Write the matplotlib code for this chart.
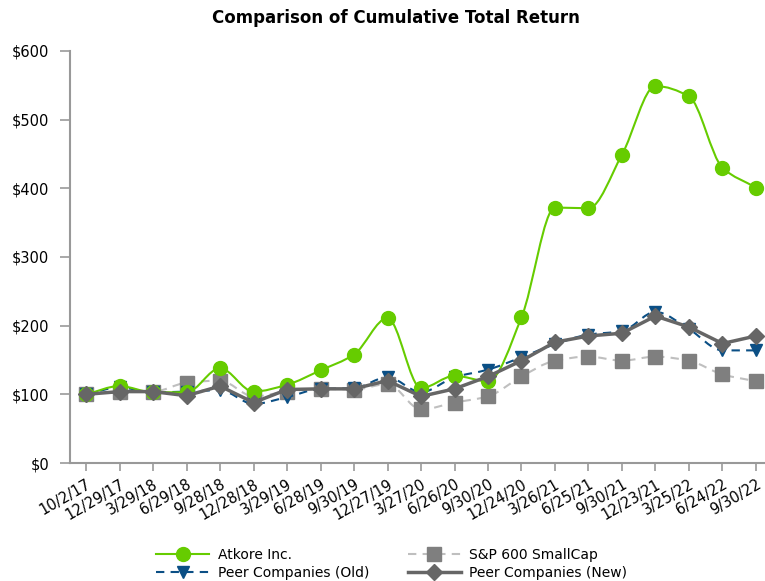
import matplotlib
matplotlib.use("Agg")
import matplotlib.pyplot as plt
from matplotlib.path import Path
from matplotlib.patches import PathPatch
from matplotlib.lines import Line2D
from matplotlib.ticker import FuncFormatter
import numpy as np

dates = ["10/2/17", "12/29/17", "3/29/18", "6/29/18", "9/28/18", "12/28/18",
         "3/29/19", "6/28/19", "9/30/19", "12/27/19", "3/27/20", "6/26/20",
         "9/30/20", "12/24/20", "3/26/21", "6/25/21", "9/30/21", "12/23/21",
         "3/25/22", "6/24/22", "9/30/22"]
atkore = [100, 112, 103, 103, 138, 104, 114, 135, 158, 211, 109, 127, 119,
          212, 372, 371, 449, 549, 534, 430, 401]
sp600 = [100, 104, 104, 117, 120, 97, 104, 108, 107, 115, 78, 88, 97, 126,
         149, 155, 149, 155, 149, 129, 119]
peer_old = [100, 110, 103, 104, 106, 86, 96, 108, 109, 125, 103, 125, 136,
            154, 173, 187, 192, 220, 195, 164, 164]
peer_new = [100, 104, 104, 98, 112, 88, 107, 108, 108, 120, 97, 108, 126,
            149, 176, 185, 189, 214, 198, 174, 185]

plt.rcParams['font.family'] = ['DejaVu Sans']


def smooth_path(xs, ys):
    """Monotone cubic (Fritsch-Carlson) rendered as Bezier segments."""
    xs = np.asarray(xs, float)
    ys = np.asarray(ys, float)
    n = len(xs)
    h = np.diff(xs)
    d = np.diff(ys) / h
    m = np.zeros(n)
    m[0], m[-1] = d[0], d[-1]
    for i in range(1, n - 1):
        if d[i - 1] * d[i] <= 0:
            m[i] = 0.0
        else:
            w1 = 2 * h[i] + h[i - 1]
            w2 = h[i] + 2 * h[i - 1]
            m[i] = (w1 + w2) / (w1 / d[i - 1] + w2 / d[i])
    verts = [(xs[0], ys[0])]
    codes = [Path.MOVETO]
    for i in range(n - 1):
        dx = h[i] / 3.0
        verts += [(xs[i] + dx, ys[i] + m[i] * dx),
                  (xs[i + 1] - dx, ys[i + 1] - m[i + 1] * dx),
                  (xs[i + 1], ys[i + 1])]
        codes += [Path.CURVE4] * 3
    return Path(verts, codes)


fig = plt.figure(figsize=(7.65, 5.81), dpi=100)
ax = fig.add_axes([70 / 765, 1 - 463 / 581, 1 - 70 / 765, (463 - 51) / 581])

x = np.arange(len(dates))

green = '#66CC00'
navy = '#0B4F85'
sqgray = '#7F7F7F'
sqline = '#BFBFBF'
dgray = '#666666'

ax.add_patch(PathPatch(smooth_path(x, sp600), fill=False, edgecolor=sqline,
                       lw=1.5, linestyle=(0, (4, 3)), zorder=2))
ax.plot(x, sp600, linestyle='none', marker='s', ms=10, color=sqgray, zorder=3)

ax.add_patch(PathPatch(smooth_path(x, peer_old), fill=False, edgecolor=navy,
                       lw=1.5, linestyle=(0, (4, 3)), zorder=4))
ax.plot(x, peer_old, linestyle='none', marker='v', ms=9, color=navy, zorder=5)

ax.add_patch(PathPatch(smooth_path(x, atkore), fill=False, edgecolor=green,
                       lw=1.5, zorder=6))
ax.plot(x, atkore, linestyle='none', marker='o', ms=10, color=green, zorder=7)

ax.plot(x, peer_new, linestyle='-', lw=2.5, marker='D', ms=8, color=dgray,
        zorder=8)

ax.set_xlim(-0.48, 20.27)
ax.set_ylim(0, 600)
ax.set_yticks(range(0, 601, 100))
ax.yaxis.set_major_formatter(FuncFormatter(lambda v, p: f"${int(v)}"))
ax.set_xticks(x)
ax.set_xticklabels(dates, rotation=30, ha='right', rotation_mode='anchor',
                   fontsize=10.5)
ax.tick_params(axis='y', labelsize=10.5, color='#999999', length=7, width=1.2,
               pad=8)
ax.tick_params(axis='x', color='#999999', length=6, width=1.2, pad=4)
for s in ['top', 'right']:
    ax.spines[s].set_visible(False)
for s in ['left', 'bottom']:
    ax.spines[s].set_color('#999999')
    ax.spines[s].set_linewidth(1.5)

fig.text(0.517, 1 - 18 / 581, "Comparison of Cumulative Total Return",
         ha='center', va='center', fontsize=12, fontweight='bold')

handles = [
    Line2D([], [], color=green, lw=1.5, marker='o', ms=10),
    Line2D([], [], color=navy, lw=1.5, linestyle=(0, (4, 3)), marker='v', ms=9),
    Line2D([], [], color=sqline, lw=1.5, linestyle=(0, (4, 3)), marker='s',
           ms=10, markerfacecolor=sqgray, markeredgecolor=sqgray),
    Line2D([], [], color=dgray, lw=2.5, marker='D', ms=8),
]
labels = ["Atkore Inc.", "Peer Companies (Old)", "S&P 600 SmallCap",
          "Peer Companies (New)"]
fig.legend(handles, labels, ncol=2, loc='center',
           bbox_to_anchor=(0.512, 1 - 564 / 581), frameon=False, fontsize=10,
           handlelength=3.8, columnspacing=2.8, labelspacing=0.25,
           handletextpad=0.6)

fig.savefig("out.png", dpi=100)
